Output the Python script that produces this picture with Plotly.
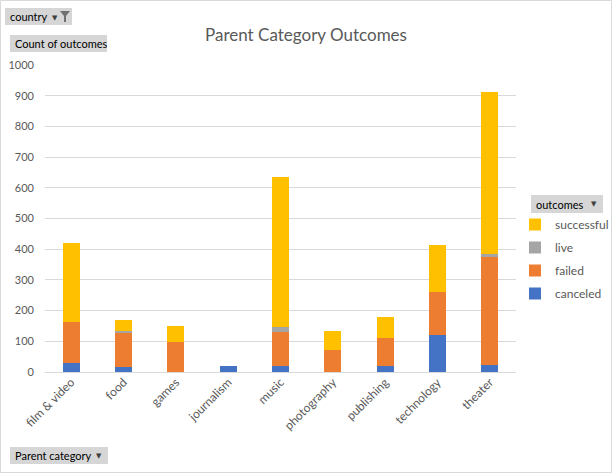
import plotly.graph_objects as go

categories = ["film & video", "food", "games", "journalism", "music",
              "photography", "publishing", "technology", "theater"]
canceled = [30, 15, 0, 20, 18, 0, 20, 120, 23]
failed = [132, 115, 98, 0, 112, 71, 91, 139, 352]
live = [0, 4, 0, 0, 16, 0, 0, 0, 10]
successful = [258, 35, 52, 0, 490, 62, 68, 155, 528]
y_ticks = list(range(0, 1001, 100))

series = [("canceled", canceled, "#4472C4"),
          ("failed", failed, "#ED7D31"),
          ("live", live, "#A5A5A5"),
          ("successful", successful, "#FFC000")]

FONT = "Lato, 'Open Sans', sans-serif"
GREY = "#595959"

fig = go.Figure()
for i, (name, vals, col) in enumerate(series):
    fig.add_trace(go.Bar(x=categories, y=vals, name=name, marker_color=col,
                         marker_line_width=0, legendgroup=f"g{i}",
                         legendrank=1000 - i))

W, H = 612, 473
L, R, T, B = 45, 96, 65, 101
pw, ph = W - L - R, H - T - B

fig.update_layout(
    width=W, height=H, barmode="stack", bargap=0.67,
    margin=dict(l=L, r=R, t=T, b=B, autoexpand=False),
    paper_bgcolor="white", plot_bgcolor="white",
    font=dict(family=FONT, color=GREY, size=12),
    title=dict(text="Parent Category Outcomes", x=0.5, xanchor="center",
               xref="container", y=1 - 35 / H, yanchor="middle",
               font=dict(size=17, color=GREY, family=FONT)),
    legend=dict(x=(515 - L) / pw, xanchor="left", y=(H - B - 210) / ph, yanchor="top",
                traceorder="grouped", tracegroupgap=4,
                font=dict(size=12, color=GREY, family=FONT), itemwidth=30,
                bgcolor="rgba(0,0,0,0)"),
    showlegend=True,
)
fig.update_xaxes(tickangle=-45, showgrid=False, showline=False, ticks="",
                 tickfont=dict(size=12, color=GREY))
fig.update_yaxes(range=[0, 1000], tickvals=y_ticks, showgrid=True,
                 gridcolor="#D9D9D9", gridwidth=1, zeroline=True,
                 zerolinecolor="#D9D9D9", zerolinewidth=1, ticks="",
                 tickfont=dict(size=11, color=GREY), ticklabelstandoff=10)


def P(x, y):
    return f"{(x - L) / pw},{(H - B - y) / ph}"


def pxrect(x0, y0, x1, y1, fill="#D6D6D6", line=None):
    return dict(type="rect", xref="paper", yref="paper",
                x0=(x0 - L) / pw, x1=(x1 - L) / pw,
                y0=(H - B - y1) / ph, y1=(H - B - y0) / ph,
                line=line or dict(width=0), fillcolor=fill, layer="above")


shapes = [pxrect(0.5, 0.5, W - 0.5, H - 0.5, fill="rgba(0,0,0,0)",
                 line=dict(color="#D9D9D9", width=1))]

buttons = [
    (5, 8, 72, 25, "country"),
    (10, 35, 107, 52, "Count of outcomes"),
    (531, 195, 603, 213, "outcomes"),
    (10, 447, 108, 464, "Parent category"),
]
annotations = []
for (x0, y0, x1, y1, txt) in buttons:
    shapes.append(pxrect(x0, y0, x1, y1))
    annotations.append(dict(text=txt, xref="paper", yref="paper",
                            x=(x0 + 3 - L) / pw, y=(H - B - (y0 + y1) / 2) / ph,
                            xanchor="left", yanchor="middle", showarrow=False,
                            font=dict(size=11, color="black", family=FONT)))

for (ax, ay) in [(594, 204), (99, 456), (55, 18)]:
    annotations.append(dict(text="▼", xref="paper", yref="paper",
                            x=(ax - L) / pw, y=(H - B - ay) / ph,
                            xanchor="center", yanchor="middle", showarrow=False,
                            font=dict(size=7, color="#404040", family="DejaVu Sans")))

fx, fy = 60, 11
shapes.append(dict(type="path", xref="paper", yref="paper",
                   path=f"M {P(fx, fy)} L {P(fx + 10, fy)} L {P(fx + 6, fy + 5)} L {P(fx + 6, fy + 11)} "
                        f"L {P(fx + 4, fy + 11)} L {P(fx + 4, fy + 5)} Z",
                   fillcolor="#707070", line=dict(width=0)))

fig.update_layout(shapes=shapes, annotations=annotations)
fig.write_html("out.html", config={"displayModeBar": False},
               post_script="document.body.style.margin='0';")
